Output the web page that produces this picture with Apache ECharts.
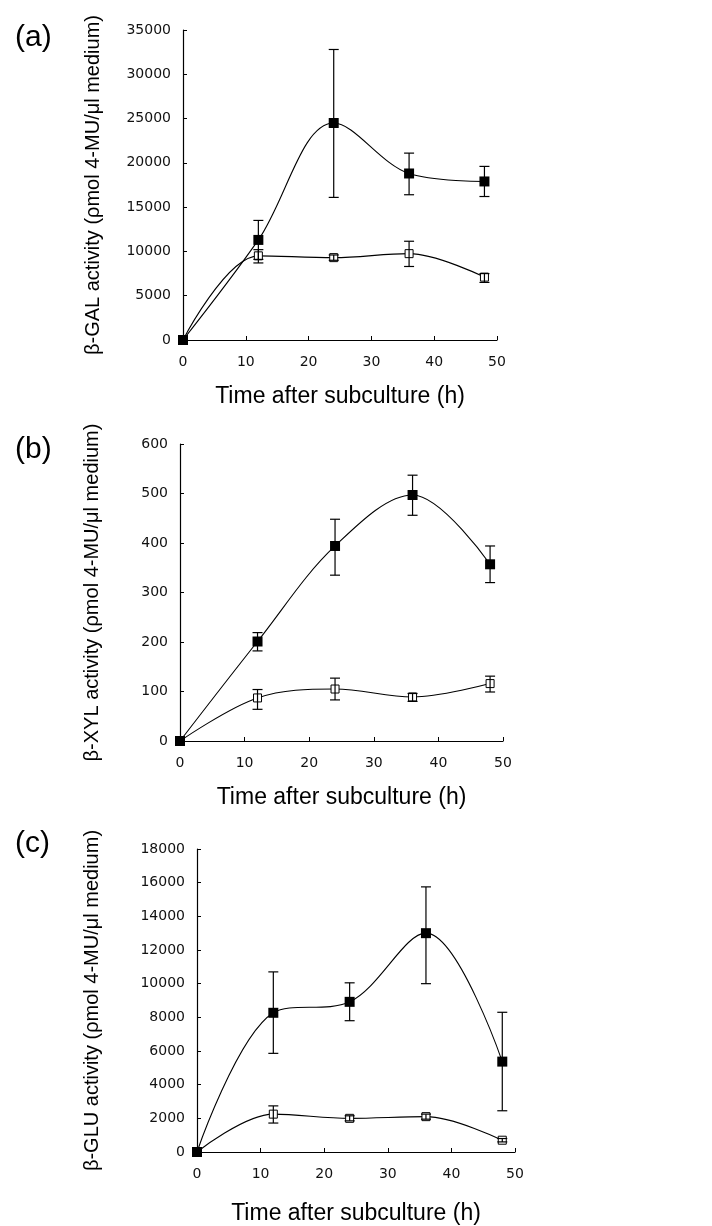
<!DOCTYPE html>
<html>
<head>
<meta charset="utf-8">
<script src="https://cdn.jsdelivr.net/npm/echarts@6/dist/echarts.min.js"></script>
<style>
  html, body { margin: 0; padding: 0; background: #fff; }
  #chart { width: 712px; height: 1226px; }
</style>
</head>
<body>
<div id="chart"></div>
<script>
// sampling times (h)
const hours = [0, 12, 24, 36, 48];

// (a) beta-GAL
const galFilled = [0, 11300, 24500, 18800, 17900];
const galFilledHigh = [null, 13500, 32800, 21100, 19600];
const galFilledLow = [null, 9100, 16100, 16400, 16200];
const galOpen = [0, 9500, 9300, 9750, 7100];
const galOpenHigh = [null, 10200, 9600, 11150, 7500];
const galOpenLow = [null, 8700, 9000, 8300, 6500];

// (b) beta-XYL
const xylFilled = [0, 201, 394, 497, 357];
const xylFilledHigh = [null, 219, 448, 537, 394];
const xylFilledLow = [null, 182, 335, 456, 320];
const xylOpen = [0, 87, 105, 89, 116];
const xylOpenHigh = [null, 104, 127, 96, 131];
const xylOpenLow = [null, 64, 83, 80, 99];

// (c) beta-GLU
const gluFilled = [0, 8270, 8920, 13000, 5370];
const gluFilledHigh = [null, 10700, 10050, 15750, 8300];
const gluFilledLow = [null, 5860, 7800, 10000, 2450];
const gluOpen = [0, 2250, 2000, 2100, 700];
const gluOpenHigh = [null, 2740, 2150, 2250, 800];
const gluOpenLow = [null, 1720, 1850, 1950, 600];

const panelLabels = ['(a)', '(b)', '(c)'];
const yNames = [
  'β-GAL activity (ρmol 4-MU/μl medium)',
  'β-XYL activity (ρmol 4-MU/μl medium)',
  'β-GLU activity (ρmol 4-MU/μl medium)'
];
const xName = 'Time after subculture (h)';
const yMax = [35000, 600, 18000];
const yStep = [5000, 100, 2000];

const grids = [
  {left: 183, top: 30, width: 314, height: 310},
  {left: 180, top: 444, width: 323, height: 297},
  {left: 197, top: 849, width: 318, height: 304}
];
const labelTops = [18, 430, 824];
const xNameGaps = [45, 45, 50];
const yNameGaps = [80, 78, 95];

const axisStyle = {lineStyle: {color: '#000', width: 1.2}};
const tickFont = {color: '#111', fontFamily: 'DejaVu Sans', fontSize: 14,
  formatter: function (v) { return String(v); }};

function pairs(ys) {
  return hours.map(function (h, i) { return [h, ys[i]]; });
}
function errData(lo, hi) {
  let out = [];
  hours.forEach(function (h, i) {
    if (lo[i] != null) out.push([h, lo[i], hi[i]]);
  });
  return out;
}

function renderErr(params, api) {
  let x = api.value(0);
  let a = api.coord([x, api.value(1)]);
  let b = api.coord([x, api.value(2)]);
  let w = 5;
  let st = {stroke: '#000', lineWidth: 1.2};
  return {
    type: 'group',
    children: [
      {type: 'line', shape: {x1: a[0], y1: a[1], x2: b[0], y2: b[1]}, style: st},
      {type: 'line', shape: {x1: a[0] - w, y1: a[1], x2: a[0] + w, y2: a[1]}, style: st},
      {type: 'line', shape: {x1: b[0] - w, y1: b[1], x2: b[0] + w, y2: b[1]}, style: st}
    ]
  };
}

function lineSeries(idx, ys, filled) {
  return {
    type: 'line',
    xAxisIndex: idx,
    yAxisIndex: idx,
    data: pairs(ys),
    smooth: 0.35,
    symbol: 'rect',
    symbolSize: filled ? 10 : 8,
    showAllSymbol: true,
    lineStyle: {color: '#000', width: 1.1},
    itemStyle: filled
      ? {color: '#000', borderColor: '#000', borderWidth: 0}
      : {color: '#fff', borderColor: '#000', borderWidth: 1},
    z: filled ? 3 : 2,
    animation: false
  };
}

function errSeries(idx, lo, hi) {
  return {
    type: 'custom',
    xAxisIndex: idx,
    yAxisIndex: idx,
    data: errData(lo, hi),
    encode: {x: 0, y: [1, 2]},
    renderItem: renderErr,
    z: 4,
    animation: false
  };
}

let xAxes = [], yAxes = [];
for (let i = 0; i < 3; i++) {
  xAxes.push({
    gridIndex: i, type: 'value', min: 0, max: 50, interval: 10,
    name: xName, nameLocation: 'middle', nameGap: xNameGaps[i],
    nameTextStyle: {color: '#000', fontFamily: 'Liberation Sans', fontSize: 23},
    axisLine: axisStyle,
    axisTick: {inside: true, length: 4, lineStyle: {color: '#000'}},
    axisLabel: Object.assign({margin: 15}, tickFont),
    splitLine: {show: false}
  });
  yAxes.push({
    gridIndex: i, type: 'value', min: 0, max: yMax[i], interval: yStep[i],
    name: yNames[i], nameLocation: 'middle', nameGap: yNameGaps[i],
    nameTextStyle: {color: '#000', fontFamily: 'Liberation Sans', fontSize: 20},
    axisLine: {show: true, lineStyle: {color: '#000', width: 1.2}},
    axisTick: {show: true, inside: true, length: 4, lineStyle: {color: '#000'}},
    axisLabel: Object.assign({margin: 12}, tickFont),
    splitLine: {show: false}
  });
}

let series = [
  lineSeries(0, galOpen, false), lineSeries(0, galFilled, true),
  errSeries(0, galOpenLow, galOpenHigh), errSeries(0, galFilledLow, galFilledHigh),
  lineSeries(1, xylOpen, false), lineSeries(1, xylFilled, true),
  errSeries(1, xylOpenLow, xylOpenHigh), errSeries(1, xylFilledLow, xylFilledHigh),
  lineSeries(2, gluOpen, false), lineSeries(2, gluFilled, true),
  errSeries(2, gluOpenLow, gluOpenHigh), errSeries(2, gluFilledLow, gluFilledHigh)
];

let option = {
  backgroundColor: '#fff',
  animation: false,
  title: panelLabels.map(function (t, i) {
    return {
      text: t, left: 10, top: labelTops[i],
      textStyle: {color: '#000', fontFamily: 'Liberation Sans', fontWeight: 'normal', fontSize: 30}
    };
  }),
  grid: grids,
  xAxis: xAxes,
  yAxis: yAxes,
  series: series
};

let myChart = echarts.init(document.getElementById('chart'));
myChart.setOption(option);
</script>
</body>
</html>
